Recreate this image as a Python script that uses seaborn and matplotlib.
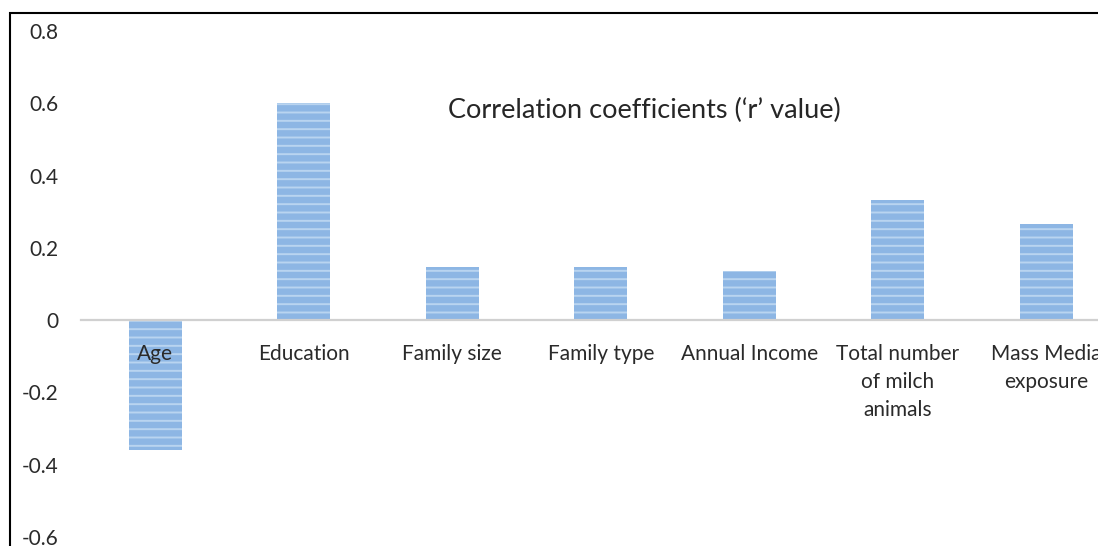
import matplotlib
matplotlib.use("Agg")
import matplotlib.pyplot as plt
import seaborn as sns
from matplotlib.patches import Rectangle

categories = ["Age", "Education", "Family size", "Family type", "Annual Income",
              "Total number\nof milch\nanimals", "Mass Media\nexposure"]
r_values = [-0.36, 0.60, 0.147, 0.147, 0.136, 0.332, 0.266]
y_ticks = [-0.6, -0.4, -0.2, 0, 0.2, 0.4, 0.6, 0.8]
y_tick_labels = ["-0.6", "-0.4", "-0.2", "0", "0.2", "0.4", "0.6", "0.8"]
title_text = "Correlation coefficients (\u2018r\u2019 value)"

sns.set_style("white")
plt.rcParams["font.family"] = ["Lato", "DejaVu Sans"]
plt.rcParams["hatch.linewidth"] = 1.4

fig = plt.figure(figsize=(10.98, 5.46), dpi=100)
ax = fig.add_axes([81 / 1098, 9 / 546, 1039.5 / 1098, 506 / 546])

sns.barplot(x=categories, y=r_values, color="#8db6e4", width=0.357, ax=ax,
            saturation=1, edgecolor="#b9d4f0", linewidth=0)
for p in ax.patches:
    p.set_hatch("--")
    p.set_edgecolor("#b9d4f0")
    p.set_linewidth(0)

ax.set_axisbelow(False)
ax.set_xlim(-0.5, 6.5)
ax.set_ylim(-0.6, 0.8)
ax.set_yticks(y_ticks)
ax.set_yticklabels(y_tick_labels)
for s in ["top", "right", "left"]:
    ax.spines[s].set_visible(False)
ax.spines["bottom"].set_position(("data", 0))
ax.spines["bottom"].set_color("#d0d0d0")
ax.spines["bottom"].set_linewidth(1.6)
ax.tick_params(axis="x", length=0, pad=17, labelsize=15, labelcolor="#2a2a2a")
ax.tick_params(axis="y", length=0, pad=16, labelsize=15, labelcolor="#2a2a2a")
for lbl in ax.get_xticklabels():
    lbl.set_verticalalignment("top")
    lbl.set_multialignment("center")
    lbl.set_linespacing(1.5)
    lbl.set_zorder(5)
ax.set_xlabel("")
ax.set_ylabel("")
ax.grid(False)
ax.patch.set_alpha(0)

fig.text(644 / 1098, 1 - 110 / 546, title_text, ha="center", va="center",
         fontsize=19.5, color="#262626")

fig.patches.append(Rectangle((10 / 1098, -0.2), 1.5, (546 - 13) / 546 + 0.2,
                             transform=fig.transFigure, fill=False,
                             edgecolor="black", linewidth=1.5))

fig.savefig("out.png", dpi=100)
